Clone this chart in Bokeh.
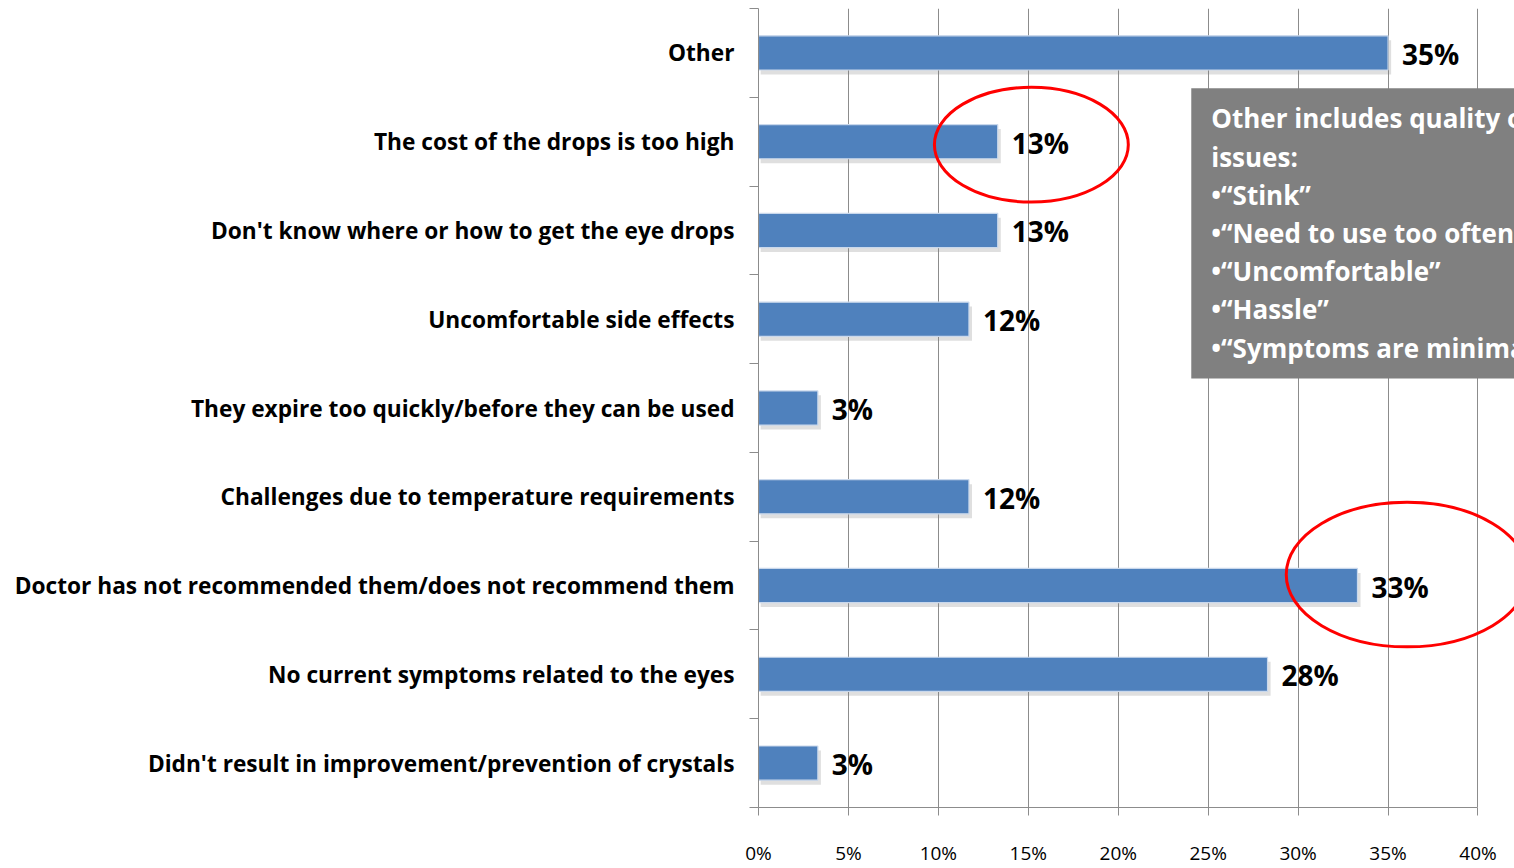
from bokeh.plotting import figure
from bokeh.models import Range1d, FixedTicker, ColumnDataSource
from bokeh.core.properties import value
from bokeh.embed import file_html
from bokeh.resources import INLINE

# ---------------- data ----------------
categories = [
    "Other",
    "The cost of the drops is too high",
    "Don't know where or how to get the eye drops",
    "Uncomfortable side effects",
    "They expire too quickly/before they can be used",
    "Challenges due to temperature requirements",
    "Doctor has not recommended them/does not recommend them",
    "No current symptoms related to the eyes",
    "Didn't result in improvement/prevention of crystals",
]
percentages = [35.0, 13.3, 13.3, 11.7, 3.3, 11.7, 33.3, 28.3, 3.3]
value_labels = ["35%", "13%", "13%", "12%", "3%", "12%", "33%", "28%", "3%"]
x_ticks = [0, 5, 10, 15, 20, 25, 30, 35, 40]
x_tick_labels = ["0%", "5%", "10%", "15%", "20%", "25%", "30%", "35%", "40%"]
note_lines = [
    "Other includes quality of life",
    "issues:",
    "\u2022\u201cStink\u201d",
    "\u2022\u201cNeed to use too often\u201d",
    "\u2022\u201cUncomfortable\u201d",
    "\u2022\u201cHassle\u201d",
    "\u2022\u201cSymptoms are minimal\u201d",
]

n = len(categories)
ypos = [n - 1 - i for i in range(n)]  # first category at top

src = ColumnDataSource(dict(y=ypos, v=percentages, lab=value_labels,
                            sy=[y - 0.05 for y in ypos],
                            sl=[0.12] * n,
                            sr=[v + 0.17 for v in percentages]))

FONT = "Open Sans"
GRID = "#8C8C8C"

p = figure(width=1514, height=868, output_backend="svg", toolbar_location=None,
           x_range=Range1d(0, 42.03), y_range=Range1d(-0.5, n - 0.5),
           min_border_left=758, min_border_right=0, min_border_top=8,
           min_border_bottom=59)
p.outline_line_color = None
p.background_fill_color = "white"
p.border_fill_color = "white"

# grid
p.ygrid.grid_line_color = None
p.xgrid.ticker = FixedTicker(ticks=x_ticks)
p.xgrid.grid_line_color = GRID
p.xgrid.grid_line_width = 1

# x axis
xa = p.xaxis[0]
xa.ticker = FixedTicker(ticks=x_ticks)
xa.major_label_overrides = {t: s for t, s in zip(x_ticks, x_tick_labels)}
xa.bounds = (0, 40)
xa.axis_line_color = GRID
xa.major_tick_line_color = GRID
xa.major_tick_out = 8
xa.major_tick_in = 0
xa.minor_tick_line_color = None
xa.major_label_text_font = FONT
xa.major_label_text_font_size = "19px"
xa.major_label_text_color = "black"
xa.major_label_standoff = 24

# y axis
ya = p.yaxis[0]
ya.ticker = FixedTicker(ticks=ypos, minor_ticks=[i - 0.5 for i in range(n + 1)])
ya.major_label_overrides = {y: c for y, c in zip(ypos, categories)}
ya.axis_line_color = GRID
ya.major_tick_line_color = None
ya.major_tick_out = 0
ya.major_tick_in = 0
ya.minor_tick_line_color = GRID
ya.minor_tick_out = 9
ya.minor_tick_in = 0
ya.major_label_text_font = FONT
ya.major_label_text_font_style = "bold"
ya.major_label_text_font_size = "22.7px"
ya.major_label_text_color = "black"
ya.major_label_standoff = 15

# shadow + bars
p.hbar(y="sy", left="sl", right="sr", height=0.385, source=src,
       fill_color="#7F7F7F", fill_alpha=0.25, line_color=None)
p.hbar(y="y", left=0, right="v", height=0.385, source=src,
       fill_color="#4F81BD", line_color="#C9D8EC", line_width=1.2)

# value labels
p.text(x="v", y="y", text="lab", source=src, x_offset=14, y_offset=1,
       text_font=value(FONT), text_font_style="bold", text_font_size="28px",
       text_color="black", text_baseline="middle", text_align="left")

# note box
p.quad(left=24.06, right=45, top=7.601, bottom=4.331,
       fill_color="#808080", line_color=None)
note_y = [7.262 - 0.4303 * i for i in range(len(note_lines))]
p.text(x=[25.17] * len(note_lines), y=note_y, text=note_lines,
       text_font=value(FONT), text_font_style="bold", text_font_size="26px",
       text_color="white", text_baseline="alphabetic", text_align="left")

# red highlight ellipses
p.ellipse(x=[15.17, 36.06], y=[6.966, 2.124], width=[10.78, 13.44],
          height=[1.292, 1.629], fill_color=None, line_color="#FF0000",
          line_width=3)

open("out.html", "w").write(file_html(p, INLINE))
